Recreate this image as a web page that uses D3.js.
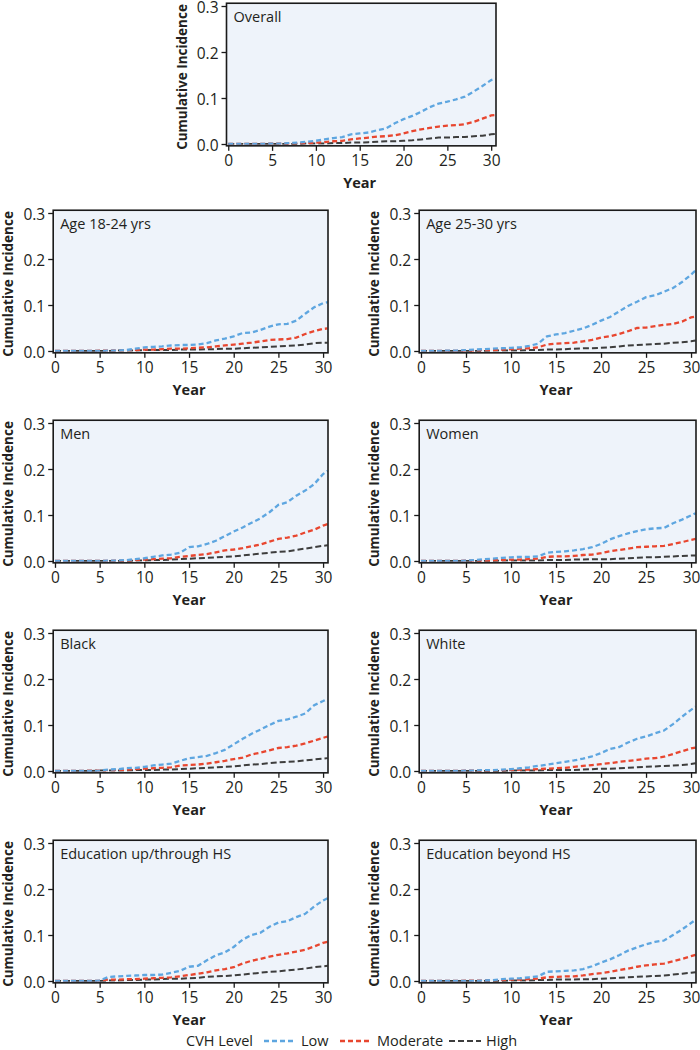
<!DOCTYPE html>
<html><head><meta charset="utf-8">
<script src="https://cdn.jsdelivr.net/npm/d3@7"></script>
<style>body{margin:0;background:#fff;} svg{display:block;font-family:"Open Sans",sans-serif;}</style>
</head><body>
<svg id="c" width="700" height="1050"></svg>
<script>
// ---------------- DATA ----------------
const years = [0,1,2,3,4,5,6,7,8,9,10,11,12,13,14,15,16,17,18,19,20,21,22,23,24,25,26,27,28,29,30,30.5];
const seriesNames = ["Low","Moderate","High"];
const panelTitles = ["Overall","Age 18-24 yrs","Age 25-30 yrs","Men","Women","Black","White","Education up/through HS","Education beyond HS"];
const yTicks = [0.0,0.1,0.2,0.3];
const xTicks = [0,5,10,15,20,25,30];

const overallLow  = [0,0,0,0,0,0.001,0.001,0.002,0.003,0.005,0.007,0.010,0.013,0.015,0.021,0.023,0.025,0.030,0.034,0.045,0.054,0.061,0.070,0.080,0.088,0.092,0.097,0.103,0.114,0.126,0.139,0.142];
const overallMod  = [0,0,0,0,0,0.001,0.001,0.001,0.002,0.002,0.003,0.004,0.006,0.007,0.010,0.012,0.014,0.016,0.017,0.019,0.023,0.028,0.032,0.035,0.038,0.040,0.041,0.043,0.048,0.055,0.062,0.063];
const overallHigh = [0,0,0,0,0,0,0,0,0,0.001,0.001,0.001,0.002,0.002,0.003,0.003,0.004,0.005,0.006,0.006,0.007,0.008,0.010,0.012,0.014,0.014,0.015,0.015,0.017,0.018,0.021,0.022];

const age1824Low  = [0,0,0,0,0,0,0.001,0.001,0.002,0.005,0.008,0.009,0.010,0.012,0.013,0.013,0.014,0.017,0.023,0.027,0.032,0.039,0.040,0.046,0.053,0.058,0.059,0.066,0.081,0.095,0.104,0.106];
const age1824Mod  = [0,0,0,0,0,0.001,0.001,0.001,0.002,0.002,0.003,0.003,0.004,0.005,0.005,0.006,0.007,0.008,0.010,0.012,0.014,0.016,0.018,0.021,0.024,0.025,0.026,0.029,0.037,0.043,0.048,0.049];
const age1824High = [0,0,0,0,0,0,0,0.001,0.001,0.001,0.002,0.002,0.002,0.002,0.003,0.003,0.003,0.004,0.004,0.005,0.005,0.006,0.007,0.008,0.009,0.010,0.011,0.012,0.014,0.017,0.018,0.018];

const age2530Low  = [0,0,0,0.001,0.001,0.002,0.003,0.004,0.005,0.006,0.007,0.008,0.011,0.016,0.032,0.036,0.039,0.044,0.049,0.057,0.066,0.074,0.086,0.098,0.107,0.117,0.121,0.129,0.137,0.150,0.166,0.175];
const age2530Mod  = [0,0,0,0,0,0.001,0.001,0.002,0.002,0.003,0.004,0.005,0.006,0.008,0.014,0.016,0.017,0.018,0.021,0.024,0.029,0.032,0.037,0.043,0.050,0.051,0.054,0.057,0.059,0.064,0.073,0.075];
const age2530High = [0,0,0,0,0,0,0,0,0.001,0.001,0.001,0.001,0.002,0.002,0.003,0.003,0.004,0.005,0.006,0.006,0.007,0.008,0.010,0.012,0.013,0.014,0.015,0.016,0.018,0.019,0.021,0.023];

const menLow  = [0,0,0,0,0,0,0.001,0.001,0.002,0.004,0.006,0.009,0.012,0.014,0.018,0.030,0.032,0.037,0.044,0.054,0.064,0.073,0.083,0.093,0.106,0.122,0.128,0.142,0.153,0.167,0.189,0.196];
const menMod  = [0,0,0,0,0,0,0,0.001,0.001,0.002,0.003,0.004,0.005,0.006,0.009,0.011,0.013,0.015,0.019,0.023,0.025,0.028,0.032,0.036,0.042,0.048,0.051,0.055,0.062,0.068,0.077,0.080];
const menHigh = [0,0,0,0,0,0,0,0,0,0.001,0.001,0.002,0.002,0.003,0.004,0.005,0.006,0.007,0.008,0.009,0.010,0.012,0.014,0.016,0.018,0.020,0.021,0.024,0.027,0.030,0.033,0.034];

const womenLow  = [0,0,0,0,0,0.001,0.002,0.004,0.005,0.007,0.008,0.009,0.009,0.010,0.018,0.020,0.021,0.023,0.026,0.030,0.037,0.047,0.054,0.060,0.065,0.069,0.071,0.072,0.082,0.090,0.099,0.104];
const womenMod  = [0,0,0,0,0,0.001,0.001,0.001,0.002,0.002,0.003,0.003,0.004,0.005,0.009,0.010,0.010,0.011,0.013,0.014,0.017,0.021,0.024,0.027,0.030,0.031,0.032,0.033,0.037,0.041,0.046,0.048];
const womenHigh = [0,0,0,0,0,0,0,0,0,0.001,0.001,0.001,0.001,0.001,0.002,0.002,0.002,0.003,0.003,0.004,0.004,0.004,0.005,0.006,0.007,0.008,0.008,0.009,0.010,0.011,0.012,0.012];

const blackLow  = [0,0,0,0,0,0.001,0.003,0.004,0.006,0.007,0.009,0.012,0.014,0.016,0.022,0.028,0.030,0.033,0.039,0.046,0.058,0.070,0.081,0.090,0.100,0.109,0.112,0.118,0.125,0.143,0.152,0.157];
const blackMod  = [0,0,0,0,0.001,0.001,0.002,0.002,0.003,0.004,0.005,0.006,0.007,0.008,0.012,0.013,0.014,0.016,0.019,0.022,0.026,0.029,0.036,0.040,0.045,0.050,0.052,0.055,0.060,0.066,0.072,0.075];
const blackHigh = [0,0,0,0,0,0.001,0.001,0.001,0.001,0.002,0.002,0.002,0.003,0.003,0.004,0.005,0.006,0.007,0.008,0.009,0.010,0.012,0.014,0.015,0.017,0.019,0.020,0.021,0.023,0.025,0.027,0.028];

const whiteLow  = [0,0,0,0,0,0.001,0.001,0.002,0.002,0.003,0.004,0.006,0.008,0.011,0.014,0.017,0.020,0.023,0.027,0.032,0.039,0.048,0.052,0.062,0.070,0.075,0.082,0.088,0.102,0.118,0.133,0.140];
const whiteMod  = [0,0,0,0,0,0.001,0.001,0.001,0.002,0.002,0.002,0.003,0.003,0.004,0.005,0.006,0.007,0.009,0.011,0.013,0.015,0.017,0.020,0.022,0.024,0.027,0.028,0.031,0.037,0.043,0.049,0.051];
const whiteHigh = [0,0,0,0,0,0,0,0,0,0,0.001,0.001,0.001,0.001,0.002,0.002,0.002,0.002,0.003,0.004,0.005,0.005,0.006,0.007,0.008,0.009,0.010,0.011,0.012,0.013,0.015,0.017];

const eduHSLow  = [0,0,0,0,0,0.001,0.009,0.010,0.011,0.012,0.013,0.013,0.014,0.018,0.022,0.031,0.033,0.045,0.056,0.062,0.074,0.090,0.100,0.105,0.118,0.127,0.130,0.139,0.146,0.162,0.175,0.180];
const eduHSMod  = [0,0,0,0,0,0.001,0.003,0.003,0.004,0.004,0.005,0.006,0.007,0.008,0.010,0.013,0.016,0.019,0.023,0.026,0.030,0.038,0.044,0.048,0.053,0.057,0.060,0.064,0.068,0.075,0.083,0.085];
const eduHSHigh = [0,0,0,0,0,0,0.001,0.001,0.002,0.002,0.003,0.003,0.004,0.005,0.005,0.006,0.007,0.009,0.010,0.011,0.012,0.014,0.016,0.018,0.020,0.021,0.023,0.025,0.027,0.030,0.032,0.033];

const eduBeyLow  = [0,0,0,0,0,0,0,0.001,0.002,0.004,0.005,0.006,0.008,0.010,0.020,0.021,0.022,0.023,0.026,0.032,0.040,0.047,0.056,0.066,0.073,0.080,0.085,0.088,0.100,0.112,0.126,0.133];
const eduBeyMod  = [0,0,0,0,0,0.001,0.001,0.001,0.002,0.002,0.003,0.003,0.004,0.005,0.008,0.009,0.010,0.010,0.012,0.015,0.017,0.020,0.024,0.027,0.031,0.034,0.036,0.038,0.043,0.048,0.054,0.057];
const eduBeyHigh = [0,0,0,0,0,0,0,0,0,0,0.001,0.001,0.001,0.002,0.002,0.003,0.003,0.003,0.004,0.004,0.005,0.006,0.007,0.008,0.009,0.010,0.011,0.012,0.014,0.016,0.018,0.019];

const panelSeries = [
  [overallLow, overallMod, overallHigh],
  [age1824Low, age1824Mod, age1824High],
  [age2530Low, age2530Mod, age2530High],
  [menLow, menMod, menHigh],
  [womenLow, womenMod, womenHigh],
  [blackLow, blackMod, blackHigh],
  [whiteLow, whiteMod, whiteHigh],
  [eduHSLow, eduHSMod, eduHSHigh],
  [eduBeyLow, eduBeyMod, eduBeyHigh]
];

// ---------------- STYLE / LAYOUT ----------------
const colors = ["#5ea6e0", "#e8462f", "#3d3d3d"];
const widths = [2.3, 2.3, 2.0];
const dashes = ["5,3", "5,3", "6,3"];
const bg = "#eef3fa";
const textColor = "#231f20";

const cols = { top: [226.5, 496], left: [53.2, 328], right: [419.2, 696] };
function layout(i) {
  if (i === 0) return { xr: cols.top, y0: 144, y3: 6 };
  const r = Math.floor((i - 1) / 2);
  const c = (i - 1) % 2 === 0 ? cols.left : cols.right;
  return { xr: c, y0: 351 + r * 210, y3: 213 + r * 210 };
}

const svg = d3.select("#c");

panelTitles.forEach((title, i) => {
  const L = layout(i);
  const x = d3.scaleLinear().domain([-0.2, 30.55]).range(L.xr);
  const k = (L.y0 - L.y3) / 0.3;
  const y = d3.scaleLinear().domain([-0.004, 0.306]).range([L.y0 + 0.004 * k, L.y3 - 0.006 * k]);
  const g = svg.append("g");

  const [bx0, bx1] = x.range();
  const [by1, by0] = y.range();
  g.append("rect").attr("x", bx0).attr("y", by0).attr("width", bx1 - bx0).attr("height", by1 - by0)
    .attr("fill", bg);

  const clipId = "clip" + i;
  svg.append("clipPath").attr("id", clipId).append("rect")
    .attr("x", bx0).attr("y", by0 - 2).attr("width", bx1 - bx0).attr("height", by1 - by0 + 1);

  const line = d3.line().x((d, j) => x(years[j])).y(d => y(d));
  [2, 1, 0].forEach(s => {
    g.append("path").datum(panelSeries[i][s])
      .attr("d", line)
      .attr("fill", "none")
      .attr("stroke", colors[s])
      .attr("stroke-width", widths[s])
      .attr("stroke-dasharray", dashes[s])
      .attr("clip-path", `url(#${clipId})`);
  });

  g.append("rect").attr("x", bx0).attr("y", by0).attr("width", bx1 - bx0).attr("height", by1 - by0)
    .attr("fill", "none").attr("stroke", "#1a1a1a").attr("stroke-width", 1.6);

  const xAxis = d3.axisBottom(x).tickValues(xTicks).tickFormat(d3.format("d")).tickSizeOuter(0).tickSizeInner(5).tickPadding(4);
  const gx = g.append("g").attr("transform", `translate(0,${by1})`).call(xAxis);
  const yAxis = d3.axisLeft(y).tickValues(yTicks).tickFormat(d3.format(".1f")).tickSizeOuter(0).tickSizeInner(5).tickPadding(3);
  const gy = g.append("g").attr("transform", `translate(${bx0},0)`).call(yAxis);
  [gx, gy].forEach(a => {
    a.select(".domain").remove();
    a.selectAll(".tick line").attr("stroke", "#1a1a1a").attr("stroke-width", 1.3);
    a.selectAll(".tick text").attr("fill", textColor).style("font-size", "15.5px").style("font-family", "'Open Sans', sans-serif");
  });
  gy.selectAll(".tick text").attr("dy", "0.45em");

  g.append("text").attr("x", bx0 + 7).attr("y", L.y3 + 15.5)
    .text(title).attr("fill", textColor).style("font-size", "14.5px");

  g.append("text").attr("x", (x(0) + x(30)) / 2).attr("y", L.y0 + 44)
    .attr("text-anchor", "middle").attr("fill", textColor)
    .style("font-size", "14.5px").style("font-weight", "bold").text("Year");
  g.append("text")
    .attr("transform", `translate(${bx0 - 40},${(L.y0 + L.y3) / 2 + 2}) rotate(-90)`)
    .attr("text-anchor", "middle").attr("fill", textColor)
    .style("font-size", "13.5px").style("font-weight", "bold").text("Cumulative Incidence");
});

const leg = svg.append("g").attr("transform", "translate(0,1041)");
leg.append("text").attr("x", 186).attr("y", 5).attr("fill", textColor).style("font-size", "14.5px").text("CVH Level");
const legX = [264, 340, 449];
seriesNames.forEach((n, s) => {
  leg.append("line").attr("x1", legX[s]).attr("x2", legX[s] + 32).attr("y1", 0).attr("y2", 0)
    .attr("stroke", colors[s]).attr("stroke-width", widths[s]).attr("stroke-dasharray", dashes[s]);
  leg.append("text").attr("x", legX[s] + 37).attr("y", 5).attr("fill", textColor).style("font-size", "14.5px").text(n);
});
</script>
</body></html>
